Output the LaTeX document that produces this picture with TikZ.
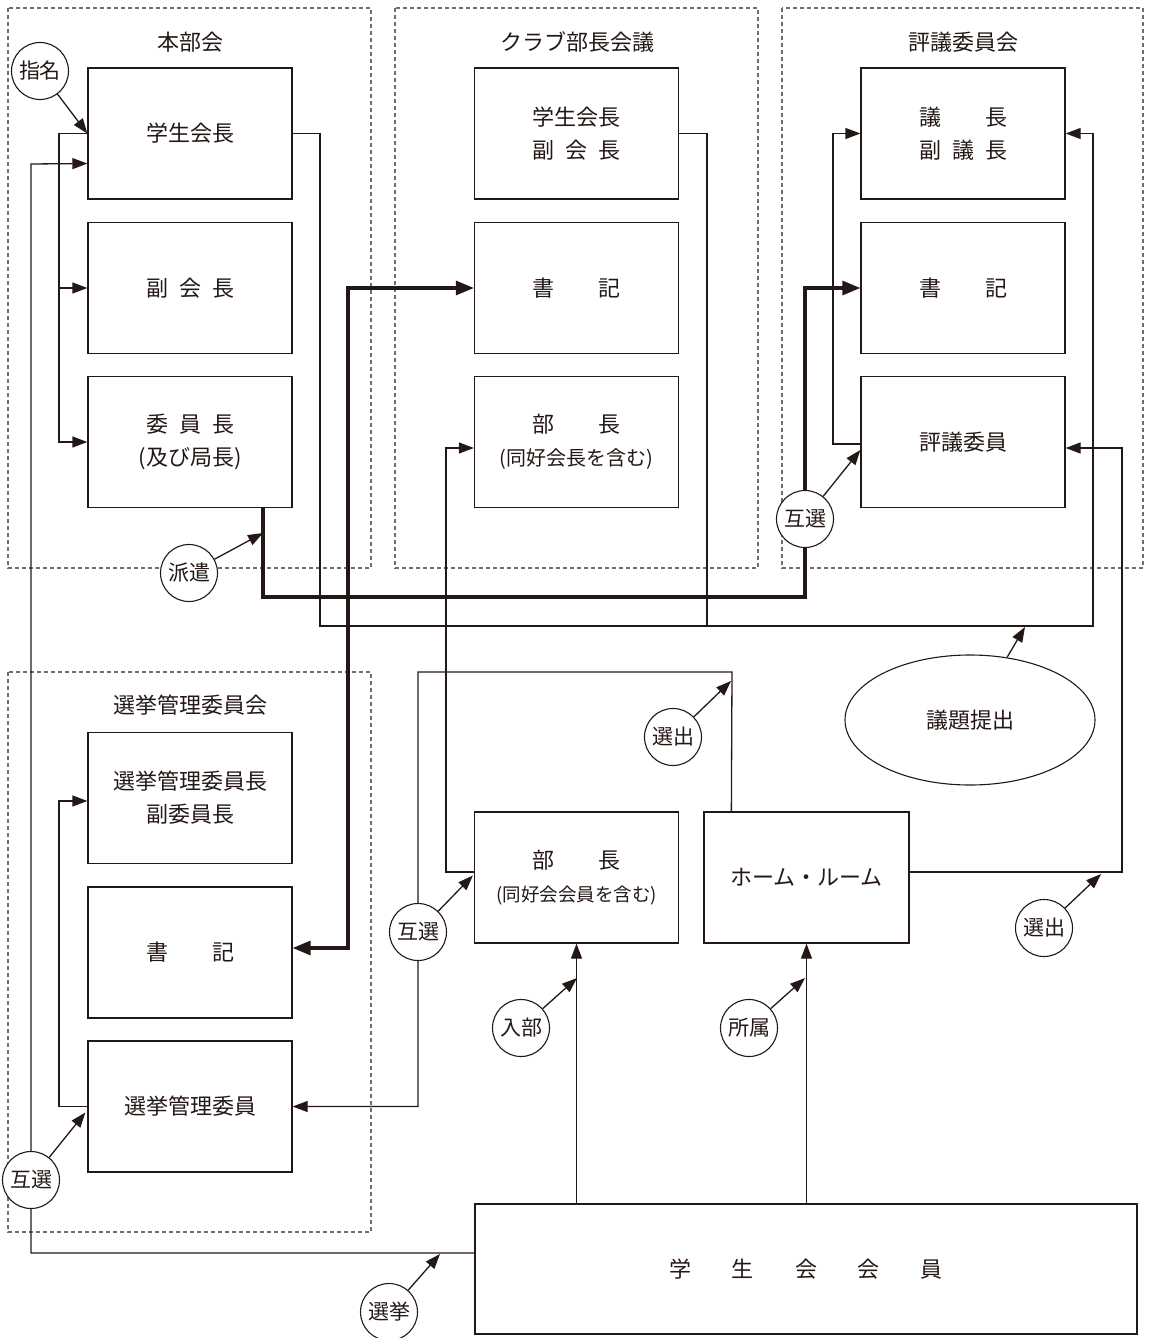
\documentclass[tikz,border=0pt]{standalone}
\usepackage{fontspec}
\setmainfont{Noto Sans CJK JP}
\usetikzlibrary{arrows.meta,calc,shapes.geometric}
\definecolor{ink}{HTML}{231815}
\definecolor{framec}{HTML}{6E6E6E}
\newcommand\jsp{\hspace{0.5em}}
\newcommand\jwsp{\hspace{2em}}
\newcommand\jmsp{\hspace{41pt}}
\newcommand\pfont{\fontsize{20}{33}\selectfont}
\begin{document}
\begin{tikzpicture}[x=1pt,y=-1pt,
 box/.style={draw=ink,line width=1.3pt,minimum width=204pt,minimum height=131pt,inner sep=0pt,align=center,font=\fontsize{22}{33}\selectfont,text=ink},
 grp/.style={draw=framec,line width=1.1pt,dash pattern=on 4pt off 3pt},
 ttl/.style={font=\fontsize{22}{26}\selectfont,text=ink,inner sep=0pt},
 conn/.style={draw=ink,line width=1.3pt},
 arr/.style={conn,-{Triangle[length=15pt,width=11pt]}},
 heavy/.style={draw=ink,line width=3.2pt},
 tarr/.style={heavy,-{Triangle[length=18pt,width=14pt]}},
 tag/.style={circle,draw=ink,line width=1.1pt,fill=white,minimum size=57pt,inner sep=0pt,font=\fontsize{21}{24}\selectfont,text=ink},
]
\path[use as bounding box] (0,0) rectangle (1151,1338);

% group frames
\draw[grp] (8,8) rectangle (371,568);
\draw[grp] (395,8) rectangle (758,568);
\draw[grp] (782,8) rectangle (1143,568);
\draw[grp] (8,672) rectangle (371,1232);

% titles
\node[ttl] (t1) at (190,42) {本部会};
\node[ttl] (t2) at (577,42) {クラブ部長会議};
\node[ttl] (t3) at (963,42) {評議委員会};
\node[ttl] (t4) at (190,705) {選挙管理委員会};

% boxes
\node[box] (hon1) at (190,133.5) {学生会長};
\node[box] (hon2) at (190,288) {副\jsp 会\jsp 長};
\node[box] (hon3) at (190,442) {委\jsp 員\jsp 長\\{\fontsize{22}{33}\selectfont (及び局長)}};
\node[box] (kb1) at (576.5,133.5) {学生会長\\副\jsp 会\jsp 長};
\node[box] (kb2) at (576.5,288) {書\jwsp 記};
\node[box] (kb3) at (576.5,442) {部\jwsp 長\\{\pfont (同好会長を含む)}};
\node[box] (hy1) at (963,133.5) {議\jwsp 長\\副\jsp 議\jsp 長};
\node[box] (hy2) at (963,288) {書\jwsp 記};
\node[box] (hy3) at (963,442) {評議委員};
\node[box] (se1) at (190,798) {選挙管理委員長\\副委員長};
\node[box] (se2) at (190,952.5) {書\jwsp 記};
\node[box] (se3) at (190,1106.5) {選挙管理委員};
\node[box] (bu) at (576.5,877.5) {部\jwsp 長\\{\fontsize{18.5}{33}\selectfont (同好会会員を含む)}};
\node[box,minimum width=205pt] (hr) at (806.5,877.5) {ホーム・ルーム};
\node[box,minimum width=662pt,minimum height=130pt] (mem) at (806,1269) {学\jmsp 生\jmsp 会\jmsp 会\jmsp 員};
\node[ellipse,draw=ink,line width=1.1pt,minimum width=250pt,minimum height=130pt,font=\fontsize{22}{26}\selectfont,text=ink] (gidai) at (970,720) {議題提出};

% main connectors
\draw[arr] (hon1.west) -- (59,133.5) -- (59,442) -- (hon3.west);
\draw[arr] (59,288) -- (hon2.west);
\draw[arr] ($(mem.west)+(0,-16)$) -- (31,1253) -- (31,164) -- ($(hon1.west)+(0,30)$);
\draw[arr] (se3.west) -- (59,1106.5) -- (59,801) -- ($(se1.west)+(0,3)$);
\draw[arr] ($(hr.north west)+(28,0)$) -- (732,672) -- (418,672) -- (418,1106.5) -- (se3.east);
\draw[arr] ($(bu.west)+(0,-5.5)$) -- (446,872) -- (446,448) -- ($(kb3.west)+(0,6)$);
\draw[arr] ($(hr.east)+(0,-5.5)$) -- (1122,872) -- (1122,448) -- ($(hy3.east)+(0,6)$);
\draw[arr] (hon1.east) -- (320,133.5) -- (320,626) -- (1093,626) -- (1093,133.5) -- (hy1.east);
\draw[conn] (kb1.east) -- (707,133.5) -- (707,626);
\draw[arr] ($(hy3.west)+(0,2)$) -- (833,444) -- (833,133.5) -- (hy1.west);
\draw[tarr] ($(hon3.south)+(73,0)$) -- (263,597) -- (805,597) -- (805,288) -- (hy2.west);
\draw[tarr] (348,597) -- (348,288) -- (kb2.west);
\draw[tarr] (348,597) -- (348,948) -- ($(se2.east)+(0,-4.5)$);
\draw[arr] (mem.north -| bu.south) -- (bu.south);
\draw[arr] (mem.north -| hr.south) -- (hr.south);

% tags
\node[tag] (shimei) at (40,71) {指名};
\node[tag] (haken) at (189,573) {派遣};
\node[tag] (gosen3) at (805,519) {互選};
\node[tag] (senshutsu1) at (673,737) {選出};
\node[tag] (gosen2) at (418,932) {互選};
\node[tag] (senshutsu2) at (1044,928) {選出};
\node[tag] (nyubu) at (521,1028) {入部};
\node[tag] (shozoku) at (749,1028) {所属};
\node[tag] (gosen1) at (31,1180) {互選};
\node[tag] (senkyo) at (389,1312) {選挙};

% tag arrows
\draw[arr] (shimei) -- (hon1.west);
\draw[arr] (haken) -- (263,533);
\draw[arr] (gosen3) -- ($(hy3.west)+(0,8)$);
\draw[arr] (senshutsu1) -- (731,681);
\draw[arr] (gosen2) -- ($(bu.west)+(-1,-2)$);
\draw[arr] (senshutsu2) -- (1101,874);
\draw[arr] (nyubu) -- (577,978);
\draw[arr] (shozoku) -- (805,978);
\draw[arr] (gosen1) -- ($(se3.west)+(-2,6)$);
\draw[arr] (senkyo) -- (440,1254);
\draw[arr] (gidai) -- (1025,627);
\end{tikzpicture}
\end{document}
